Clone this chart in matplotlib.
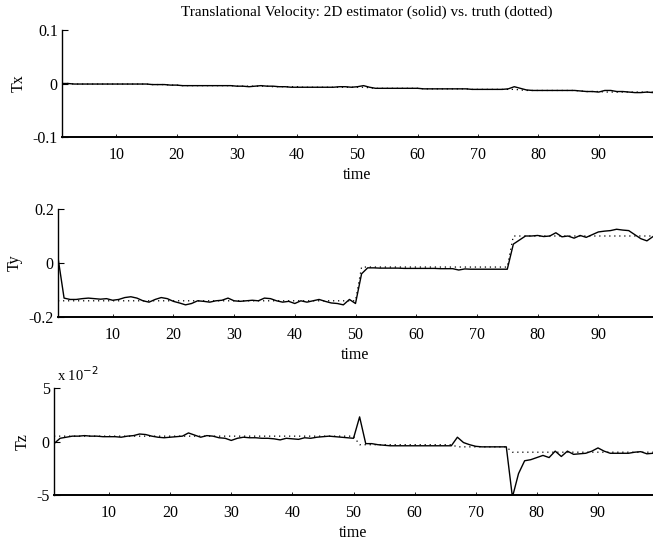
import numpy as np
import matplotlib.pyplot as plt

plt.rcParams['font.family'] = 'Liberation Serif'

time = np.arange(1, 100)

# Tx: estimator and truth
tx_est = [0.000, 0.000, -0.001, -0.001, -0.001, -0.001, -0.001, -0.001, -0.001, -0.001,
          -0.001, -0.001, -0.001, -0.001, -0.001, -0.002, -0.002, -0.002, -0.003, -0.003,
          -0.004, -0.004, -0.004, -0.004, -0.004, -0.004, -0.004, -0.004, -0.004, -0.005,
          -0.005, -0.006, -0.005, -0.004, -0.005, -0.005, -0.006, -0.006, -0.007, -0.007,
          -0.007, -0.007, -0.007, -0.007, -0.007, -0.007, -0.006, -0.006, -0.007, -0.006,
          -0.004, -0.007, -0.009, -0.009, -0.009, -0.009, -0.009, -0.009, -0.009, -0.009,
          -0.010, -0.010, -0.010, -0.010, -0.010, -0.010, -0.010, -0.010, -0.011, -0.011,
          -0.011, -0.011, -0.011, -0.011, -0.010, -0.006, -0.009, -0.012, -0.013, -0.013,
          -0.013, -0.013, -0.013, -0.013, -0.013, -0.013, -0.014, -0.015, -0.015, -0.016,
          -0.013, -0.013, -0.015, -0.015, -0.016, -0.017, -0.017, -0.016, -0.017]
tx_true = [0.000, 0.000, -0.001, -0.001, -0.001, -0.001, -0.001, -0.001, -0.001, -0.001,
           -0.001, -0.001, -0.001, -0.001, -0.001, -0.002, -0.002, -0.002, -0.003, -0.003,
           -0.004, -0.004, -0.004, -0.004, -0.004, -0.004, -0.004, -0.004, -0.004, -0.005,
           -0.005, -0.005, -0.005, -0.005, -0.005, -0.006, -0.006, -0.006, -0.006, -0.006,
           -0.007, -0.007, -0.007, -0.007, -0.007, -0.007, -0.007, -0.007, -0.007, -0.007,
           -0.007, -0.008, -0.009, -0.009, -0.009, -0.009, -0.009, -0.009, -0.009, -0.009,
           -0.010, -0.010, -0.010, -0.010, -0.010, -0.010, -0.010, -0.010, -0.011, -0.011,
           -0.011, -0.011, -0.011, -0.011, -0.011, -0.011, -0.012, -0.013, -0.013, -0.013,
           -0.013, -0.013, -0.013, -0.013, -0.013, -0.013, -0.014, -0.015, -0.015, -0.015,
           -0.016, -0.016, -0.016, -0.016, -0.016, -0.016, -0.016, -0.016, -0.016]

# Ty: estimator and truth
ty_est = [0.020, -0.130, -0.135, -0.135, -0.132, -0.130, -0.132, -0.134, -0.132, -0.138,
          -0.135, -0.128, -0.125, -0.130, -0.140, -0.145, -0.135, -0.128, -0.132, -0.142,
          -0.148, -0.155, -0.150, -0.140, -0.142, -0.145, -0.140, -0.138, -0.130, -0.140,
          -0.142, -0.140, -0.138, -0.140, -0.130, -0.132, -0.140, -0.145, -0.142, -0.150,
          -0.140, -0.145, -0.140, -0.135, -0.142, -0.148, -0.150, -0.155, -0.135, -0.150,
          -0.040, -0.018, -0.018, -0.019, -0.019, -0.019, -0.019, -0.020, -0.020, -0.020,
          -0.020, -0.020, -0.020, -0.021, -0.021, -0.021, -0.026, -0.022, -0.023, -0.023,
          -0.023, -0.023, -0.023, -0.023, -0.023, 0.070, 0.085, 0.100, 0.100, 0.102,
          0.098, 0.100, 0.112, 0.097, 0.100, 0.092, 0.102, 0.095, 0.105, 0.115,
          0.118, 0.120, 0.125, 0.122, 0.120, 0.105, 0.090, 0.082, 0.098]
ty_true = [-0.140] * 50 + [-0.015] * 25 + [0.100] * 24

# Tz (x 10^-2): estimator and truth
tz_est = [-0.20, 0.30, 0.40, 0.50, 0.50, 0.55, 0.50, 0.50, 0.45, 0.45,
          0.45, 0.40, 0.50, 0.55, 0.70, 0.65, 0.50, 0.40, 0.35, 0.40,
          0.45, 0.50, 0.80, 0.60, 0.40, 0.55, 0.50, 0.35, 0.30, 0.10,
          0.30, 0.40, 0.35, 0.35, 0.30, 0.30, 0.25, 0.15, 0.30, 0.25,
          0.20, 0.35, 0.30, 0.40, 0.45, 0.50, 0.45, 0.40, 0.35, 0.30,
          2.30, -0.20, -0.20, -0.30, -0.35, -0.40, -0.40, -0.40, -0.40, -0.40,
          -0.40, -0.40, -0.40, -0.40, -0.40, -0.40, 0.40, -0.10, -0.30, -0.45,
          -0.50, -0.50, -0.50, -0.50, -0.50, -5.20, -3.00, -1.80, -1.70, -1.50,
          -1.30, -1.50, -0.90, -1.40, -0.90, -1.20, -1.15, -1.10, -0.90, -0.60,
          -0.90, -1.10, -1.10, -1.10, -1.10, -1.00, -0.95, -1.15, -1.10]
tz_true = [0.50] * 50 + [-0.30] * 16 + [-0.50] * 9 + [-1.00] * 24

series = [(tx_est, tx_true, 'Tx', [-0.1, 0, 0.1], ['-0.1', '0', '0.1'], (-0.1, 0.1)),
          (ty_est, ty_true, 'Ty', [-0.2, 0, 0.2], ['-0.2', '0', '0.2'], (-0.2, 0.2)),
          (tz_est, tz_true, 'Tz', [-5, 0, 5], ['-5', '0', '5'], (-5, 5))]

W, H = 653, 540
fig = plt.figure(figsize=(W / 100, H / 100), dpi=100)

# axes boxes in pixels: left, top, bottom
boxes = [(62, 30, 137), (58, 209, 317), (54, 388, 495)]

for (est, true, name, yt, ytl, ylim), (l, t, b) in zip(series, boxes):
    ax = fig.add_axes([l / W, 1 - b / H, (W - l) / W, (b - t) / H])
    ax.plot(time, true, color='black', linestyle=(0, (1, 3)), lw=0.9)
    ax.plot(time, est, color='black', lw=1.0)
    ax.set_xlim(1, 99)
    ax.set_ylim(*ylim)
    ax.set_yticks(yt)
    ax.set_yticklabels(ytl)
    ax.set_xticks(range(10, 100, 10))
    ax.spines['top'].set_visible(False)
    ax.spines['right'].set_visible(False)
    ax.spines['left'].set_linewidth(1.0)
    ax.spines['bottom'].set_linewidth(1.4)
    ax.tick_params(axis='y', direction='in', length=4, width=0.8, labelsize=11.5, pad=3)
    ax.tick_params(axis='x', direction='in', length=2, width=0.6, labelsize=11.5, pad=7)
    ax.set_xlabel('time', fontsize=11.5, labelpad=3)
    ax.set_ylabel(name, fontsize=11.5, labelpad=4)

fig.text(367 / W, 1 - 12 / H, 'Translational Velocity: 2D estimator (solid) vs. truth (dotted)',
         ha='center', va='center', fontsize=11)
fig.text(57 / W, 1 - 375 / H, r'x 10$^{-2}$', ha='left', va='center', fontsize=10.5)

fig.savefig('out.png', dpi=100)
